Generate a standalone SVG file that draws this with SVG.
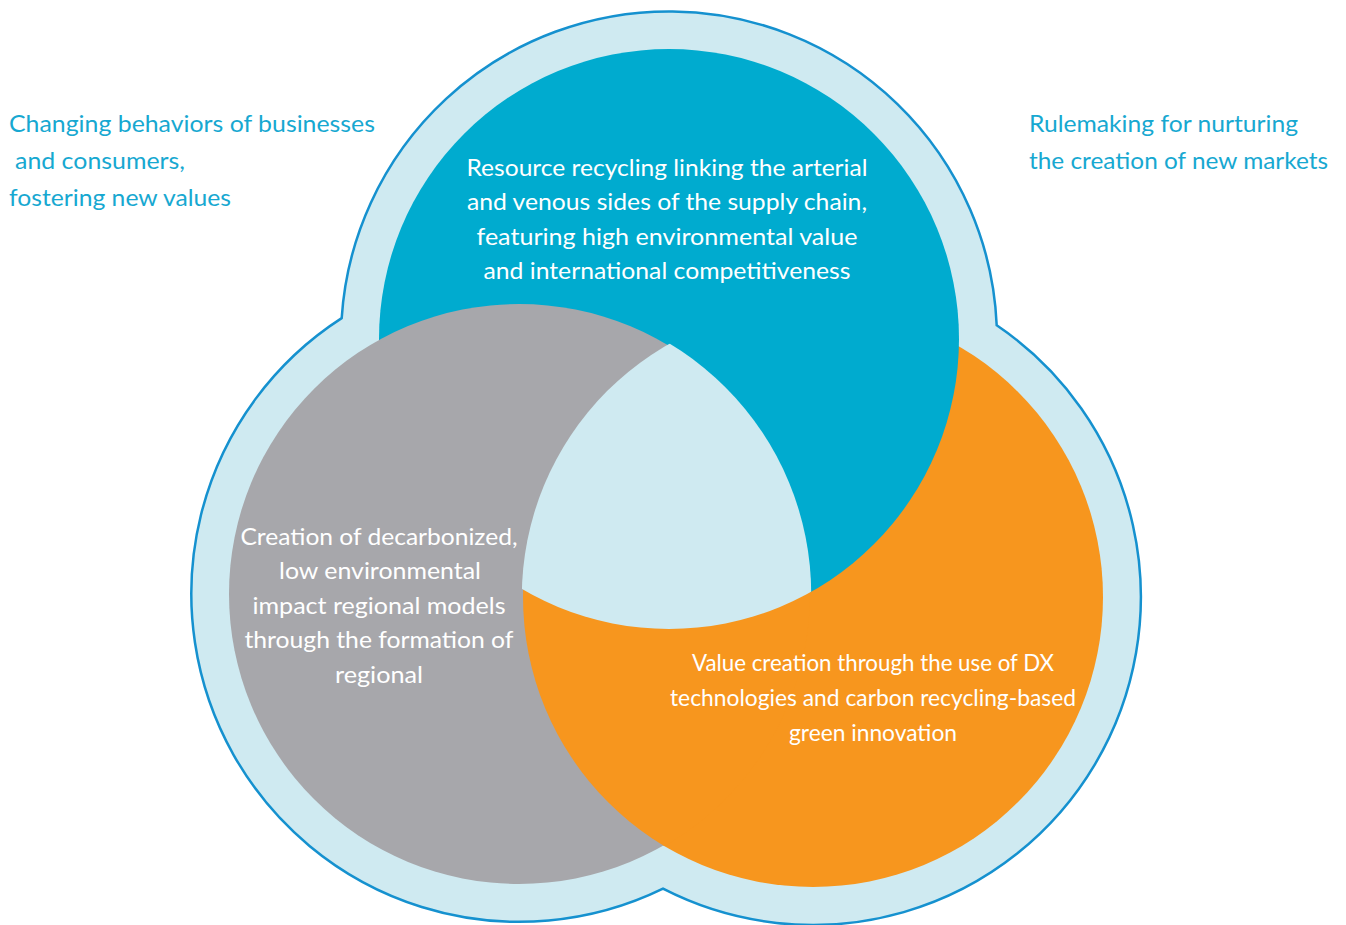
<svg xmlns="http://www.w3.org/2000/svg" width="1346" height="925" viewBox="0 0 1346 925">
<style>
.lbl{font-family:Lato,"Noto Sans","Liberation Sans",sans-serif;font-size:24px;fill:#17a8d1}
.wt{font-family:Lato,"Noto Sans","Liberation Sans",sans-serif;font-size:23px;fill:#ffffff;text-anchor:middle}
</style>
<defs>
<clipPath id="clipGray291"><circle cx="519" cy="594" r="291"/></clipPath>
<clipPath id="clipGray292"><circle cx="519" cy="594" r="292.2"/></clipPath>
<clipPath id="clipBlue"><circle cx="669" cy="339" r="290"/></clipPath>
</defs>
<rect width="1346" height="925" fill="#ffffff"/>
<g id="outer">
<path d="M341.7,318.1 A328,328 0 0 1 996.7,325.3 A328,328 0 0 1 663,888.7 A328,328 0 0 1 341.7,318.1 Z" fill="#cfeaf1" stroke="#1591cf" stroke-width="2.5"/>
</g>
<g id="circle-orange">
<circle cx="813" cy="597" r="290" fill="#f7961e"/>
</g>
<g id="circle-blue">
<circle cx="669" cy="339" r="290" fill="#00abcf"/>
</g>
<g id="circle-gray">
<circle cx="519" cy="594" r="290" fill="#a7a7ab"/>
</g>
<g id="overlap-orange-gray" clip-path="url(#clipGray291)">
<circle cx="813" cy="597" r="290" fill="#f7961e"/>
</g>
<g id="center" clip-path="url(#clipGray292)">
<g clip-path="url(#clipBlue)">
<circle cx="813" cy="597" r="291.2" fill="#cfeaf1"/>
</g>
</g>
<g id="connectors"/>
<g id="label-left">
<text class="lbl" x="9" y="132" textLength="366" lengthAdjust="spacingAndGlyphs">Changing behaviors of businesses</text>
<text class="lbl" x="15" y="169" textLength="170" lengthAdjust="spacingAndGlyphs">and consumers,</text>
<text class="lbl" x="9" y="206" textLength="222" lengthAdjust="spacingAndGlyphs">fostering new values</text>
</g>
<g id="label-right">
<text class="lbl" x="1029" y="132" textLength="269" lengthAdjust="spacingAndGlyphs">Rulemaking for nurturing</text>
<text class="lbl" x="1029" y="169" textLength="299" lengthAdjust="spacingAndGlyphs">the creation of new markets</text>
</g>
<g id="text-blue">
<text class="wt" x="667" y="176" textLength="401" lengthAdjust="spacingAndGlyphs">Resource recycling linking the arterial</text>
<text class="wt" x="667" y="210" textLength="400" lengthAdjust="spacingAndGlyphs">and venous sides of the supply chain,</text>
<text class="wt" x="667" y="245" textLength="381" lengthAdjust="spacingAndGlyphs">featuring high environmental value</text>
<text class="wt" x="667" y="279" textLength="367" lengthAdjust="spacingAndGlyphs">and international competitiveness</text>
</g>
<g id="text-gray">
<text class="wt" x="379" y="545" textLength="277" lengthAdjust="spacingAndGlyphs">Creation of decarbonized,</text>
<text class="wt" x="380" y="579" textLength="202" lengthAdjust="spacingAndGlyphs">low environmental</text>
<text class="wt" x="379" y="614" textLength="253" lengthAdjust="spacingAndGlyphs">impact regional models</text>
<text class="wt" x="379" y="648" textLength="269" lengthAdjust="spacingAndGlyphs">through the formation of</text>
<text class="wt" x="379" y="683" textLength="88" lengthAdjust="spacingAndGlyphs">regional</text>
</g>
<g id="text-orange">
<text class="wt" x="873" y="671" textLength="362" lengthAdjust="spacingAndGlyphs">Value creation through the use of DX</text>
<text class="wt" x="873" y="706" textLength="406" lengthAdjust="spacingAndGlyphs">technologies and carbon recycling-based</text>
<text class="wt" x="873" y="741" textLength="168" lengthAdjust="spacingAndGlyphs">green innovation</text>
</g>
</svg>
